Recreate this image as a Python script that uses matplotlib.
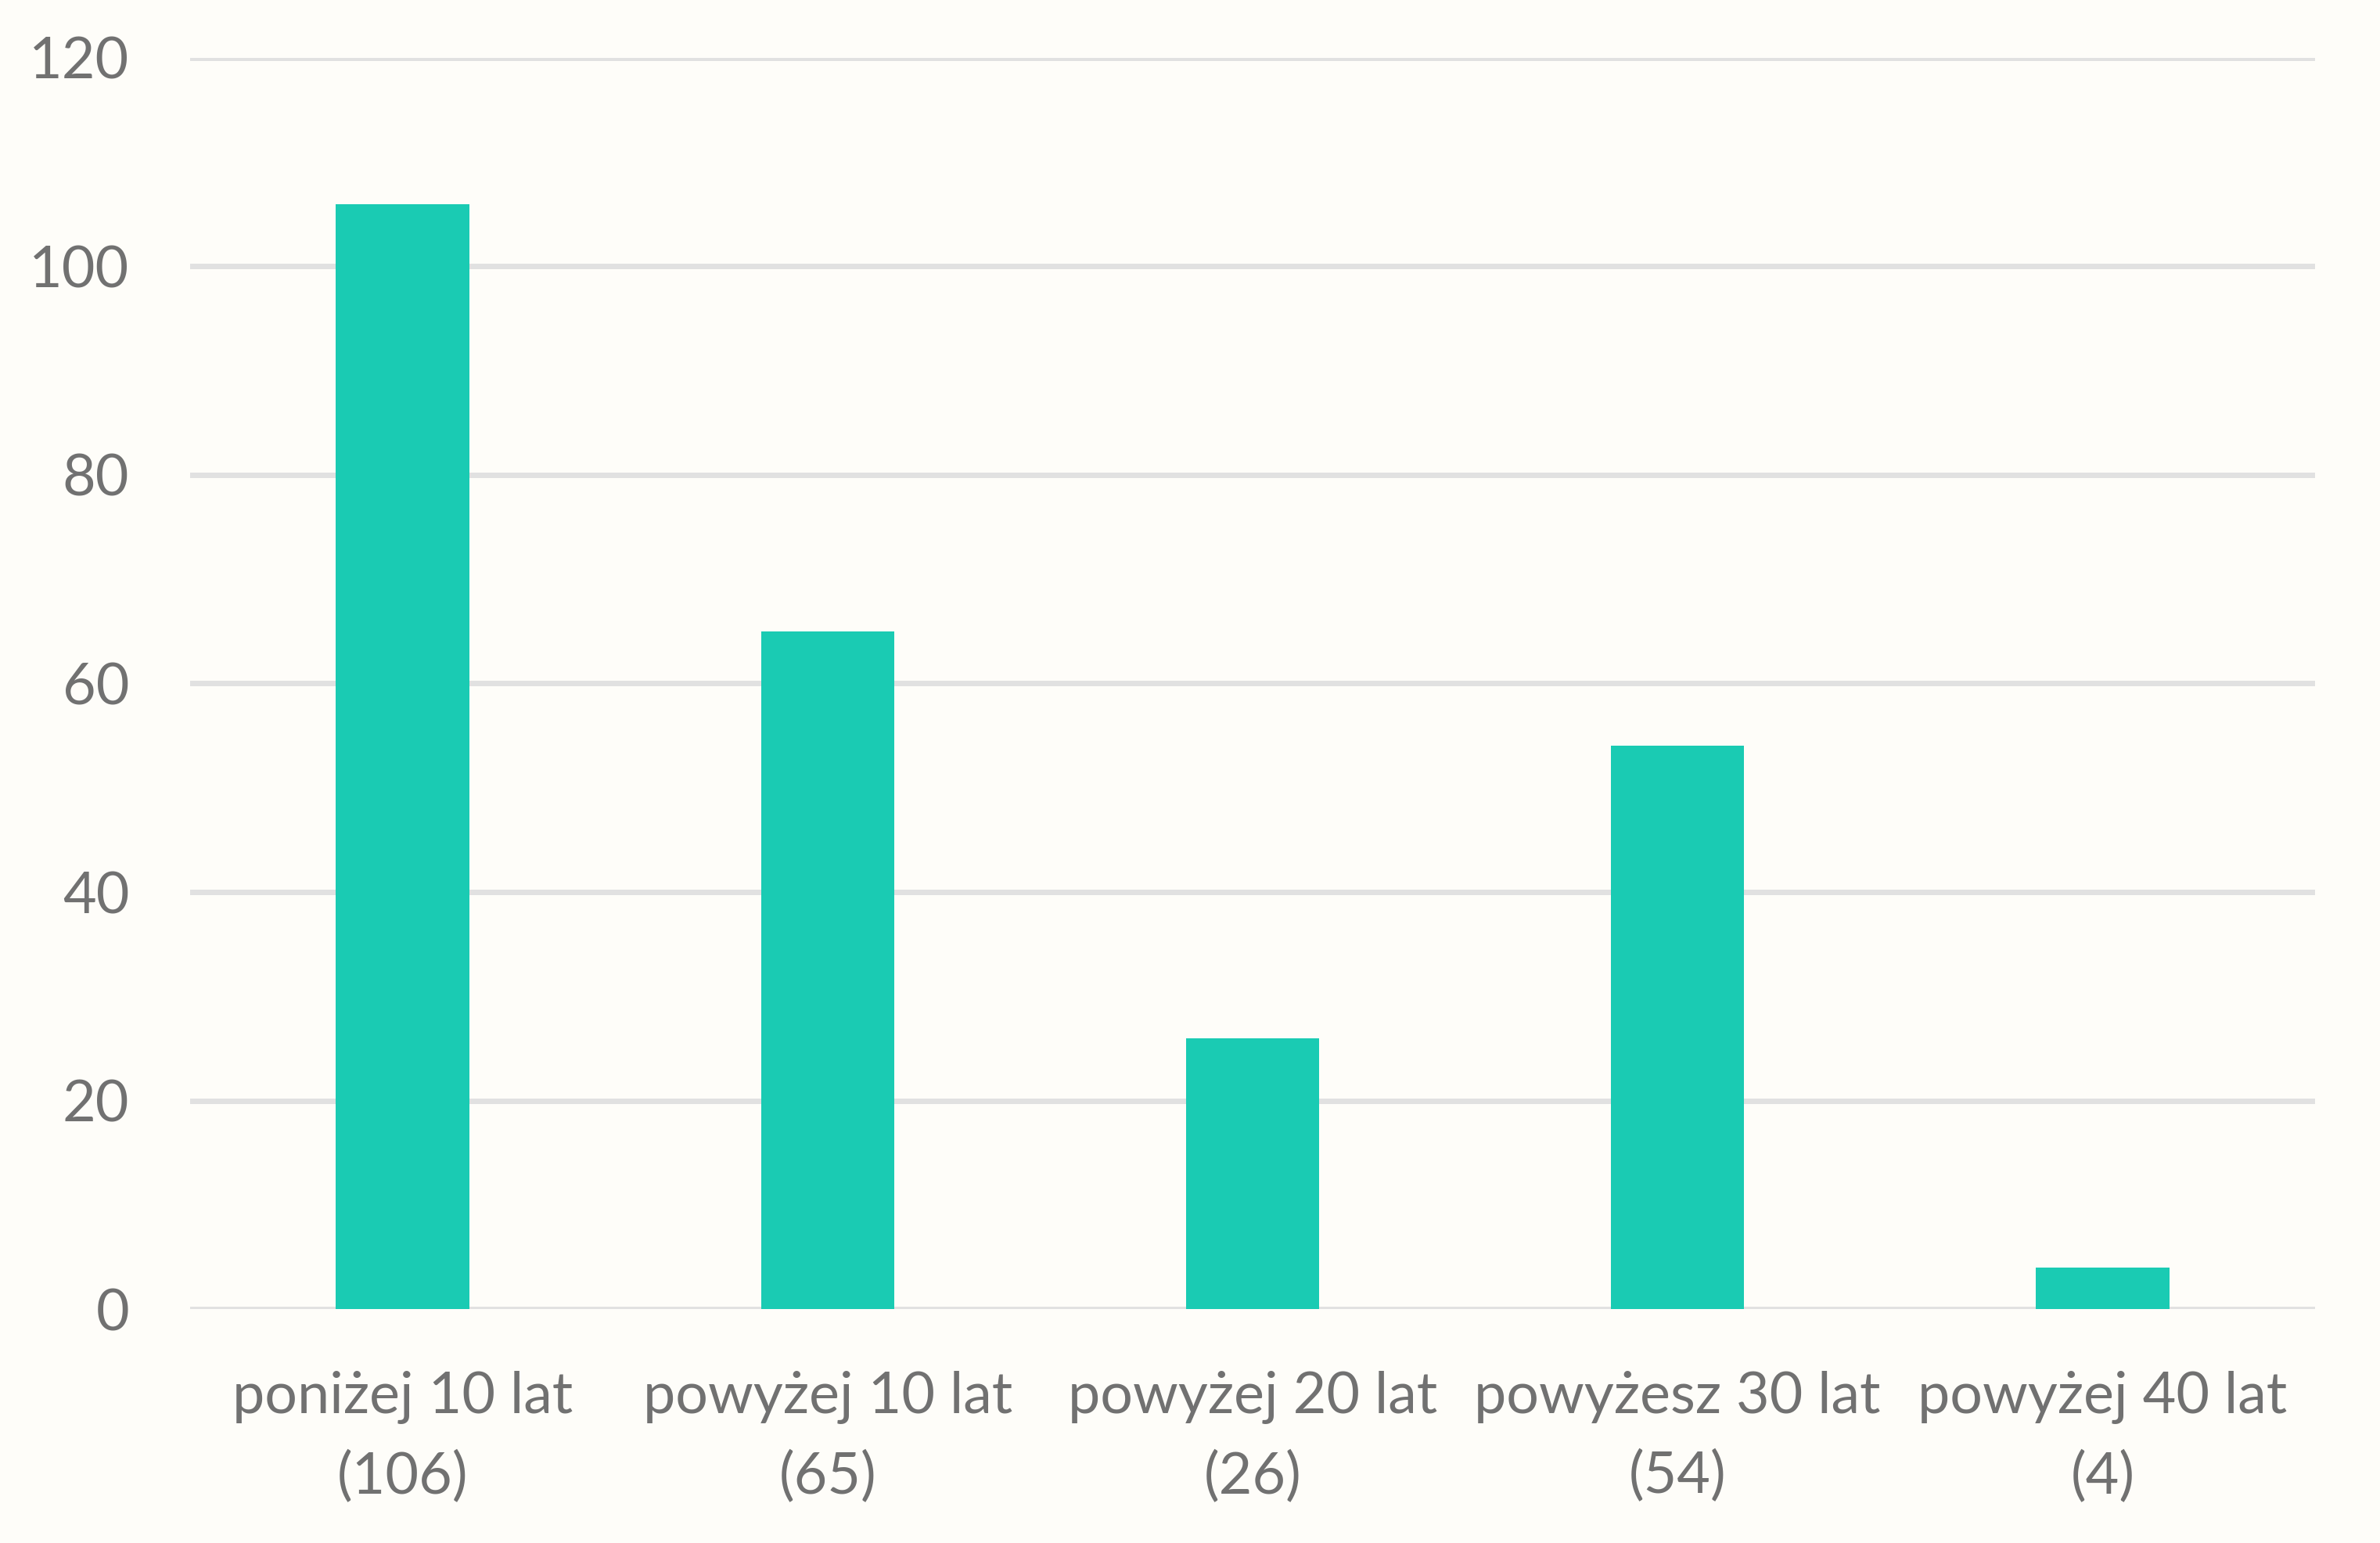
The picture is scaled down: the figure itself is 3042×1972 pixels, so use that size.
import matplotlib
matplotlib.use("Agg")
import matplotlib.pyplot as plt

categories = ["poniżej 10 lat\n(106)", "powyżej 10 lat\n(65)", "powyżej 20 lat\n(26)",
              "powyżesz 30 lat\n(54)", "powyżej 40 lat\n(4)"]
values = [106, 65, 26, 54, 4]
yticks = [0, 20, 40, 60, 80, 100, 120]

bg = "#FEFDF9"
bar_color = "#1ACBB3"
text_color = "#717171"
grid_color = "#E1E1E1"

plt.rcParams['font.family'] = ['Lato', 'DejaVu Sans']

fig = plt.figure(figsize=(30.42, 19.72), dpi=100, facecolor=bg)
ax = fig.add_axes([0.0799, 0.1516, 0.8928, 0.8109], facecolor=bg)

x = list(range(len(categories)))
ax.bar(x, values, width=0.314, color=bar_color, zorder=3)

ax.set_xlim(-0.5, len(categories) - 0.5)
ax.set_ylim(0, 120)
ax.set_yticks(yticks)
ax.set_yticklabels([str(t) for t in yticks])
ax.set_xticks(x)
ax.set_xticklabels(categories, linespacing=1.62)

ax.grid(axis='y', color=grid_color, linewidth=5, zorder=0)
for s in ax.spines.values():
    s.set_visible(False)
ax.tick_params(axis='both', length=0, labelcolor=text_color, labelsize=53)
ax.tick_params(axis='y', pad=56)
ax.tick_params(axis='x', pad=57)

fig.savefig("out.png", dpi=100, facecolor=bg)
